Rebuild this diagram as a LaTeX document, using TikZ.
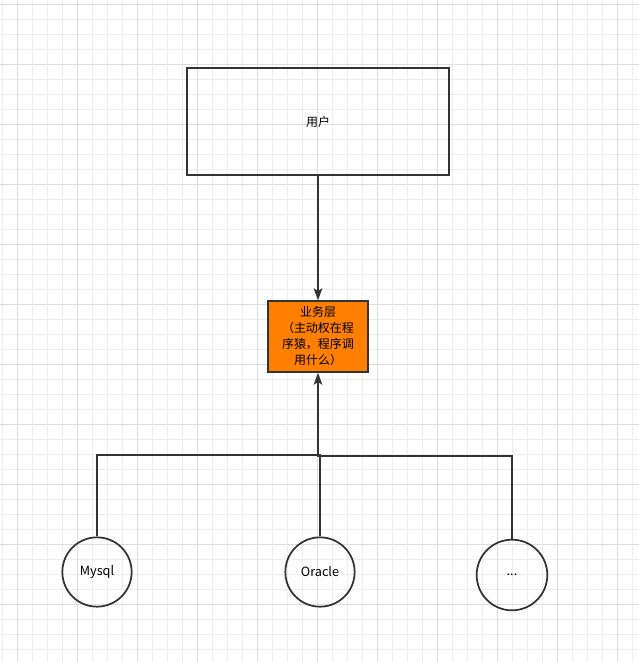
\documentclass[tikz,border=0pt]{standalone}
\usepackage{fontspec}
\setmainfont{Noto Sans CJK SC}
\usetikzlibrary{arrows.meta,calc,positioning}
\definecolor{linegray}{HTML}{333333}
\definecolor{gridminor}{HTML}{EEEEEE}
\definecolor{gridmajor}{HTML}{DDDDDD}
\definecolor{layerorange}{HTML}{FF8000}
\tikzset{
    box/.style={draw=linegray,line width=1.3pt,inner sep=0pt,align=center,
        font=\fontsize{9}{12}\selectfont},
    db/.style={circle,draw=linegray,line width=1.3pt,inner sep=0pt,
        font=\fontsize{9.5}{12}\selectfont},
    link/.style={linegray,line width=1.3pt},
    tip/.style={-{Stealth[length=9pt,width=6.5pt,inset=2pt]}},
}

\begin{document}
\begin{tikzpicture}[x=0.75pt,y=-0.75pt]

    \useasboundingbox (0,0) rectangle (639,662);
    \fill[white] (0,0) rectangle (639,662);

    % background grid
    \foreach \gx in {2,17,...,632}
        \draw[gridminor,line width=0.6pt] (\gx,0) -- (\gx,662);
    \foreach \gy in {4,19,...,660}
        \draw[gridminor,line width=0.6pt] (0,\gy) -- (639,\gy);
    \foreach \gx in {17,77,...,617}
        \draw[gridmajor,line width=0.6pt] (\gx,0) -- (\gx,662);
    \foreach \gy in {4,64,...,644}
        \draw[gridmajor,line width=0.6pt] (0,\gy) -- (639,\gy);

    % layers
    \node[box,minimum width=196.5pt,minimum height=80pt] (user) at (318,121.5) {用户};

    \node[box,fill=layerorange,minimum width=75pt,minimum height=53pt,text width=72pt]
        (service) at (318,336.5) {业务层\\（主动权在程\\序猿，程序调\\用什么）};

    % databases
    \node[db,minimum size=52pt] (mysql) at (97,572) {Mysql};
    \node[db,minimum size=52pt] (oracle) at (320,572) {Oracle};
    \node[db,minimum size=53pt] (other) at (512,575) {...};

    % connect layers
    \draw[link,tip] (user) -- (service);

    \coordinate (join) at (318,455);
    \draw[link,tip] (join) -- (service);
    \draw[link] (mysql.north) |- (join);
    \draw[link] (oracle.north) -- ++(0,-82);
    \draw[link] (join) -- ++(0,1) -| (other.north);

\end{tikzpicture}
\end{document}
